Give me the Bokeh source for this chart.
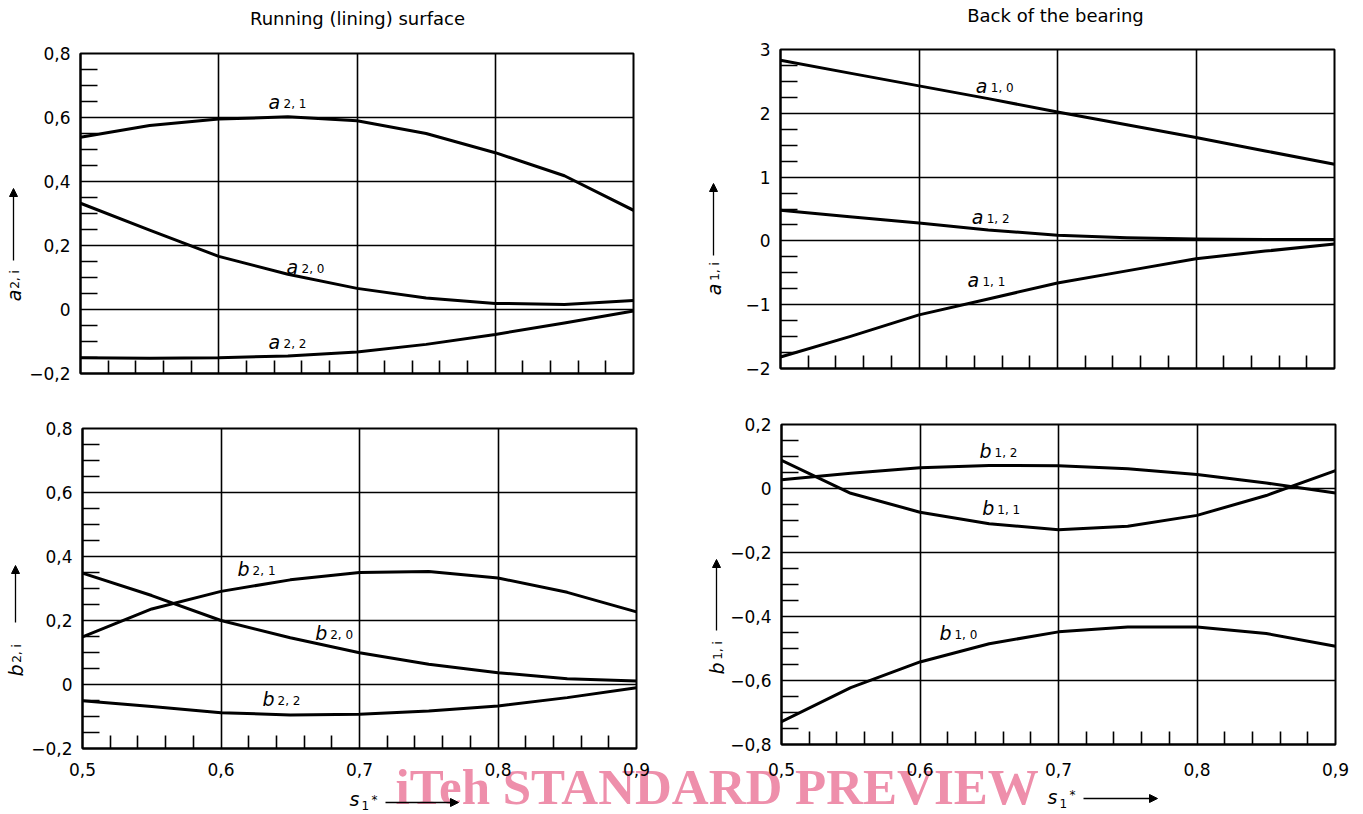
import math
from bokeh.plotting import figure
from bokeh.models import FixedTicker, Label, Arrow, NormalHead, Range1d, GridBox
from bokeh.embed import file_html
from bokeh.resources import INLINE

# ---------------- data ----------------
s1 = [0.50, 0.55, 0.60, 0.65, 0.70, 0.75, 0.80, 0.85, 0.90]

# Running (lining) surface
a2_0 = [0.332, 0.248, 0.166, 0.110, 0.066, 0.036, 0.019, 0.016, 0.028]
a2_1 = [0.538, 0.575, 0.595, 0.602, 0.590, 0.550, 0.490, 0.418, 0.310]
a2_2 = [-0.151, -0.152, -0.151, -0.145, -0.133, -0.109, -0.078, -0.042, -0.005]
b2_0 = [0.348, 0.278, 0.200, 0.146, 0.099, 0.063, 0.037, 0.018, 0.011]
b2_1 = [0.149, 0.236, 0.291, 0.327, 0.350, 0.353, 0.333, 0.288, 0.227]
b2_2 = [-0.051, -0.069, -0.088, -0.095, -0.093, -0.083, -0.067, -0.041, -0.010]

# Back of the bearing
a1_0 = [2.83, 2.63, 2.43, 2.23, 2.02, 1.82, 1.62, 1.41, 1.20]
a1_1 = [-1.82, -1.50, -1.16, -0.91, -0.66, -0.47, -0.28, -0.16, -0.05]
a1_2 = [0.48, 0.38, 0.28, 0.17, 0.09, 0.05, 0.03, 0.02, 0.02]
b1_0 = [-0.729, -0.622, -0.542, -0.485, -0.448, -0.433, -0.433, -0.453, -0.493]
b1_1 = [0.088, -0.015, -0.074, -0.110, -0.129, -0.118, -0.084, -0.022, 0.056]
b1_2 = [0.027, 0.048, 0.065, 0.072, 0.071, 0.062, 0.044, 0.017, -0.014]

x_ticks = [0.5, 0.6, 0.7, 0.8, 0.9]
x_labels = ["0,5", "0,6", "0,7", "0,8", "0,9"]

yt_a2 = [-0.2, 0.0, 0.2, 0.4, 0.6, 0.8]
yl_a2 = ["\u22120,2", "0", "0,2", "0,4", "0,6", "0,8"]
yt_a1 = [-2, -1, 0, 1, 2, 3]
yl_a1 = ["\u22122", "\u22121", "0", "1", "2", "3"]
yt_b2 = [-0.2, 0.0, 0.2, 0.4, 0.6, 0.8]
yl_b2 = ["\u22120,2", "0", "0,2", "0,4", "0,6", "0,8"]
yt_b1 = [-0.8, -0.6, -0.4, -0.2, 0.0, 0.2]
yl_b1 = ["\u22120,8", "\u22120,6", "\u22120,4", "\u22120,2", "0", "0,2"]

titles = ["Running (lining) surface", "Back of the bearing"]
watermark = "iTeh STANDARD PREVIEW"

FONT = "DejaVu Sans"
LW = 3
W_TOTAL, H_TOTAL = 1359, 814


def minor_between(ticks, n):
    out = []
    for a, b in zip(ticks[:-1], ticks[1:]):
        step = (b - a) / n
        for k in range(1, n):
            out.append(round(a + k * step, 4))
    return out


def panel(yt, yl, fw, fh, left, right, top, bottom, show_x, ysub, xstand=14):
    p = figure(frame_width=fw, frame_height=fh,
               x_range=Range1d(0.5, 0.9), y_range=Range1d(yt[0], yt[-1]),
               output_backend="svg", toolbar_location=None,
               min_border_left=left, min_border_right=right,
               min_border_top=top, min_border_bottom=bottom)
    p.background_fill_color = None
    p.border_fill_color = None
    p.outline_line_color = "black"
    p.outline_line_width = 2
    p.outline_line_alpha = 1

    xminor = minor_between(x_ticks, 5)
    if show_x:
        p.xaxis.ticker = FixedTicker(ticks=x_ticks, minor_ticks=xminor)
    else:
        p.xaxis.ticker = FixedTicker(ticks=[], minor_ticks=xminor)
    p.yaxis.ticker = FixedTicker(ticks=yt, minor_ticks=minor_between(yt, ysub))
    for ax in (p.xaxis[0], p.yaxis[0]):
        ax.axis_line_color = "black"
        ax.axis_line_width = 2
        ax.major_tick_in = 0
        ax.major_tick_out = 0
        ax.minor_tick_out = 0
        ax.minor_tick_line_color = "black"
        ax.minor_tick_line_width = 1.6
        ax.major_label_text_font = FONT
        ax.major_label_text_font_size = "17px"
        ax.major_label_text_color = "black"
    p.xaxis.minor_tick_in = 13
    p.yaxis.minor_tick_in = 17
    p.yaxis.major_label_standoff = 10
    p.yaxis.major_label_overrides = {v: t for v, t in zip(yt, yl)}
    if show_x:
        p.xaxis.major_label_overrides = {v: t for v, t in zip(x_ticks, x_labels)}
        p.xaxis.major_label_standoff = xstand
    else:
        p.xaxis.major_label_standoff = 0

    p.xgrid.ticker = FixedTicker(ticks=x_ticks)
    p.ygrid.ticker = FixedTicker(ticks=yt)
    for g in (p.xgrid[0], p.ygrid[0]):
        g.grid_line_color = "black"
        g.grid_line_width = 1.6
        g.grid_line_alpha = 1
    try:
        p.frame_align = False
    except Exception:
        pass
    return p


def curve(p, y):
    p.line(s1, y, line_width=LW, line_color="black", line_join="round", line_cap="round")


def curve_label(p, letter, sub, x, y):
    p.add_layout(Label(x=x, y=y, y_offset=4, text=letter, text_font=FONT, text_font_style="italic",
                       text_font_size="19px", text_color="black",
                       text_align="left", text_baseline="alphabetic"))
    p.add_layout(Label(x=x, y=y, x_offset=15, y_offset=2, text=sub, text_font=FONT,
                       text_font_size="12px", text_color="black",
                       text_align="left", text_baseline="alphabetic"))


# ---------------- panels ----------------
p1 = panel(yt_a2, yl_a2, 553, 320, 80, 67, 53, 25, False, 4)
for y in (a2_0, a2_1, a2_2):
    curve(p1, y)
curve_label(p1, "a", "2, 1", 0.636, 0.637)
curve_label(p1, "a", "2, 0", 0.649, 0.119)
curve_label(p1, "a", "2, 2", 0.636, -0.114)

p2 = panel(yt_a1, yl_a1, 554, 319, 80, 25, 49, 30, False, 4)
for y in (a1_0, a1_1, a1_2):
    curve(p2, y)
curve_label(p2, "a", "1, 0", 0.641, 2.36)
curve_label(p2, "a", "1, 2", 0.638, 0.314)
curve_label(p2, "a", "1, 1", 0.635, -0.678)

p3 = panel(yt_b2, yl_b2, 554, 320, 82, 64, 30, 66, True, 4, xstand=14)
for y in (b2_0, b2_1, b2_2):
    curve(p3, y)
curve_label(p3, "b", "2, 1", 0.612, 0.348)
curve_label(p3, "b", "2, 0", 0.668, 0.149)
curve_label(p3, "b", "2, 2", 0.630, -0.059)

p4 = panel(yt_b1, yl_b1, 554, 320, 81, 24, 26, 70, True, 4, xstand=18)
for y in (b1_0, b1_1, b1_2):
    curve(p4, y)
curve_label(p4, "b", "1, 2", 0.643, 0.106)
curve_label(p4, "b", "1, 1", 0.645, -0.074)
curve_label(p4, "b", "1, 0", 0.614, -0.464)

# ---------------- page-level texts (layer beneath the transparent panels) ----------------
ov = figure(frame_width=W_TOTAL, frame_height=H_TOTAL,
            x_range=Range1d(0, W_TOTAL), y_range=Range1d(H_TOTAL, 0),
            x_axis_type=None, y_axis_type=None, min_border=0,
            output_backend="svg", toolbar_location=None)
ov.background_fill_color = None
ov.border_fill_color = None
ov.outline_line_color = None
ov.grid.visible = False
try:
    ov.frame_align = False
except Exception:
    pass


def mid(baseline, size, asc, desc):
    # anchor (middle of the text box) for a wanted alphabetic baseline
    return baseline - (asc - desc) / 2 * size


def t(x, y, text, size, style="normal", angle=0.0, align="center",
      color="black", font=FONT):
    ov.add_layout(Label(x=x, y=y, text=text, text_font=font, text_font_size=f"{size}px",
                        text_font_style=style, text_color=color, angle=angle,
                        text_align=align, text_baseline="middle"))


def arrow(x0, y0, x1, y1):
    ov.add_layout(Arrow(x_start=x0, y_start=y0, x_end=x1, y_end=y1,
                        end=NormalHead(size=8, fill_color="black", line_color="black", line_width=1),
                        line_width=1.3, line_color="black"))


def yname(letter, sub, x, y_letter, y_sub, y_arrow0, y_arrow1):
    t(x, y_letter, letter, 19, style="italic", angle=math.pi / 2)
    t(x + 1.5, y_sub, sub, 12, angle=math.pi / 2)
    arrow(x, y_arrow0, x, y_arrow1)


DJ = (0.928, 0.236)


def xname(x, base, ay, ax0, ax1, sub_base, star_base):
    t(x, mid(base, 19, *DJ), "s", 19, style="italic", align="left")
    t(x + 12, mid(sub_base, 12, *DJ), "1", 12, align="left")
    t(x + 22, mid(star_base, 12, *DJ), "*", 12, align="left")
    arrow(ax0, ay, ax1, ay)


t(395, mid(803.5, 51, 0.891, 0.216), watermark, 51, style="bold", align="left",
  color="#ee8fab", font="Liberation Serif")
t(357, 18, titles[0], 18)
t(1055, 15, titles[1], 18)
yname("a", "2, i", 13, 295, 279, 260, 188)
yname("a", "1, i", 713, 289, 271, 255, 183)
yname("b", "2, i", 15, 670, 653, 622, 565)
yname("b", "1, i", 716, 668, 650, 630, 559)
xname(349, 805, 802, 385, 458, 809, 804)
xname(1047, 803, 798, 1083, 1157, 807, 799)

layout = GridBox(children=[(ov, 0, 0, 2, 2), (p1, 0, 0), (p2, 0, 1), (p3, 1, 0), (p4, 1, 1)])
open("out.html", "w").write(file_html(layout, INLINE))
